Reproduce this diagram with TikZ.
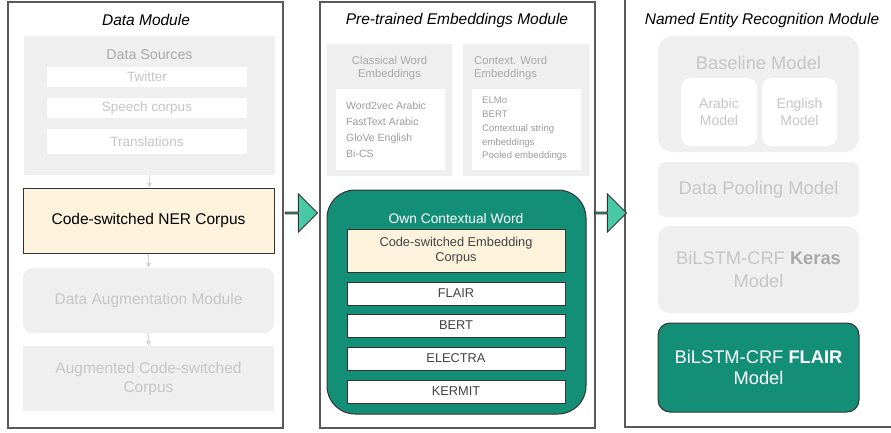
\documentclass[tikz,border=0pt]{standalone}
\usepackage{fontspec}
\setmainfont{Liberation Sans}
\usetikzlibrary{shapes.arrows,arrows.meta}
\newcommand{\fsz}[2]{\fontsize{#1}{#2}\selectfont}
\definecolor{panelc}{HTML}{5A5A5A}
\definecolor{lightg}{HTML}{EFEFEF}
\definecolor{distext}{HTML}{C6C6C6}
\definecolor{distext2}{HTML}{A9A9A9}
\definecolor{listtext}{HTML}{9C9C9C}
\definecolor{cream}{HTML}{FDF3DC}
\definecolor{teal}{HTML}{148F77}
\definecolor{arrowc}{HTML}{48C9A6}
\definecolor{darkb}{HTML}{333333}
\definecolor{itemtext}{HTML}{444444}
\definecolor{arrgray}{HTML}{D6D6D6}
\tikzset{
  panel/.style={draw=panelc, line width=1.1pt, fill=white, inner sep=0pt},
  graybox/.style={fill=lightg, draw=none, inner sep=0pt},
  whitebox/.style={fill=white, draw=none, inner sep=0pt},
  creambox/.style={fill=cream, draw=darkb, line width=1pt, inner sep=0pt},
  greenbox/.style={fill=teal, draw=darkb, line width=1pt, inner sep=0pt, text=white},
  itembox/.style={fill=white, draw=darkb, line width=1pt, inner sep=0pt, text=itemtext, font=\fsz{12.8}{15}, minimum width=218pt, minimum height=23pt},
  ptitle/.style={font=\fsz{15.5}{18}\itshape, inner sep=0pt, text=black},
  smallarr/.style={draw=arrgray, line width=0.8pt, -{Triangle[length=5pt,width=5pt]}},
  bigarrow/.style={single arrow, draw=darkb, line width=0.9pt, fill=arrowc, minimum height=32pt, minimum width=38pt, single arrow head extend=9.5pt, single arrow head indent=0pt, inner sep=0pt},
}
\begin{document}
\begin{tikzpicture}[x=1pt,y=-1pt]
\useasboundingbox (0,0) rectangle (891,432);
\clip (0,0) rectangle (891,432);
% panels
\node[panel, minimum width=275pt, minimum height=426pt] (dm) at (145.5,215) {};
\node[panel, minimum width=275pt, minimum height=426pt] (pm) at (457.5,215) {};
\node[panel, minimum width=290pt, minimum height=440pt] (nm) at (770,207) {};
\node[ptitle] (dmt) at (146,20) {Data Module};
\node[ptitle] (pmt) at (457,20) {Pre-trained Embeddings Module};
\node[ptitle] (nmt) at (762,20) {Named Entity Recognition Module};
% ---- Data module
\node[graybox, minimum width=251pt, minimum height=139pt] (ds) at (149.5,105.5) {};
\node[inner sep=0pt, text=distext2, font=\fsz{14.2}{16}] (dst) at (149.5,55) {Data Sources};
\node[whitebox, minimum width=200pt, minimum height=20pt, text=distext, font=\fsz{13.5}{16}] (tw) at (147,77) {Twitter};
\node[whitebox, minimum width=200pt, minimum height=20pt, text=distext, font=\fsz{13.5}{16}] (sp) at (147,108) {Speech corpus};
\node[whitebox, minimum width=200pt, minimum height=25pt, text=distext, font=\fsz{13.5}{16}] (tr) at (147,141.5) {Translations};
\node[creambox, minimum width=251pt, minimum height=65pt, font=\fsz{15.5}{18}] (ner) at (148.5,220.5) {Code-switched NER Corpus};
\node[graybox, rounded corners=10pt, minimum width=251pt, minimum height=65pt, text=distext, font=\fsz{15.5}{18}] (aug) at (148.5,300.5) {Data Augmentation Module};
\node[graybox, minimum width=251pt, minimum height=65pt, text=distext, font=\fsz{15.5}{19}, align=center] (augc) at (148.5,378.5) {Augmented Code-switched\\Corpus};
\draw[smallarr] (ds.south) -- (ds.south |- ner.north);
\draw[smallarr] (ner.south) -- (aug.north);
\draw[smallarr] (aug.south) -- (augc.north);
% ---- Embeddings module
\node[graybox, minimum width=125pt, minimum height=132pt] (cw) at (389.5,110) {};
\node[inner sep=0pt, text=distext2, font=\fsz{11.3}{13}, align=center] (cwt) at (389.5,68.5) {Classical Word\\Embeddings};
\node[whitebox, minimum width=109pt, minimum height=81pt] (cwl) at (390.5,129.5) {};
\node[inner sep=0pt, anchor=west, text=listtext, font=\fsz{10.5}{16}, align=left] (cwlt) at (346,129.5) {Word2vec Arabic\\FastText Arabic\\GloVe English\\Bi-CS};
\node[graybox, minimum width=126pt, minimum height=132pt] (cx) at (526,110) {};
\node[inner sep=0pt, anchor=west, text=distext2, font=\fsz{11.3}{13}, align=left] (cxt) at (474,68.5) {Context. Word\\Embeddings};
\node[whitebox, minimum width=109pt, minimum height=81pt] (cxl) at (526.5,129.5) {};
\node[inner sep=0pt, anchor=west, text=listtext, font=\fsz{9.6}{13.8}, align=left] (cxlt) at (482,129) {ELMo\\BERT\\Contextual string\\embeddings\\Pooled embeddings};
\node[greenbox, rounded corners=28pt, minimum width=259pt, minimum height=224pt] (own) at (456.5,302) {};
\node[inner sep=0pt, text=white, font=\fsz{13.8}{16}] (ownt) at (456,219) {Own Contextual Word};
\node[creambox, minimum width=218pt, minimum height=43pt, text=itemtext, font=\fsz{12.8}{15}, align=center] (cse) at (456,250.5) {Code-switched Embedding\\Corpus};
\node[itembox] (flair) at (456,293.5) {FLAIR};
\node[itembox] (bert) at (456,325.5) {BERT};
\node[itembox] (electra) at (456,358.5) {ELECTRA};
\node[itembox] (kermit) at (456,391.5) {KERMIT};
% ---- NER module
\node[graybox, rounded corners=15pt, minimum width=201pt, minimum height=116pt] (base) at (758.5,94) {};
\node[inner sep=0pt, text=distext, font=\fsz{18.3}{21}] (baset) at (758.5,63) {Baseline Model};
\node[whitebox, rounded corners=10pt, minimum width=76pt, minimum height=68pt, text=distext, font=\fsz{14}{17}, align=center] (arm) at (719,112) {Arabic\\Model};
\node[whitebox, rounded corners=10pt, minimum width=75pt, minimum height=68pt, text=distext, font=\fsz{14}{17}, align=center] (enm) at (799.5,112) {English\\Model};
\node[graybox, rounded corners=8pt, minimum width=201pt, minimum height=55pt, text=distext, font=\fsz{18.3}{21}] (pool) at (758.5,189.5) {Data Pooling Model};
\node[graybox, rounded corners=12pt, minimum width=201pt, minimum height=87pt, text=distext, font=\fsz{18.3}{22.5}, align=center] (keras) at (758.5,269.5) {BiLSTM-CRF \textcolor{distext!85!black}{\textbf{Keras}}\\Model};
\node[greenbox, rounded corners=12pt, minimum width=201pt, minimum height=89pt, font=\fsz{18.3}{21.5}, align=center] (flm) at (758.5,367.5) {BiLSTM-CRF \textbf{FLAIR}\\Model};
% ---- big arrows
\node[bigarrow] (arr1) at (301,213) {};
\node[bigarrow] (arr2) at (610,213) {};
\end{tikzpicture}
\end{document}
